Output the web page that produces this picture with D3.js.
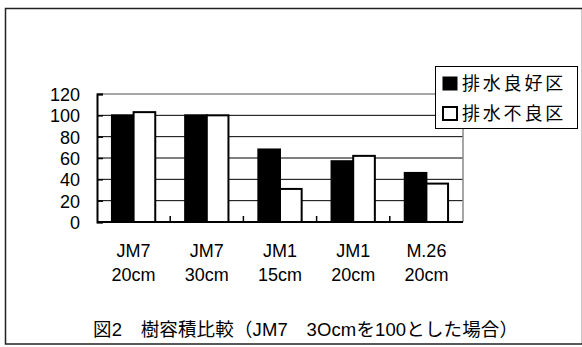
<!DOCTYPE html>
<html><head><meta charset="utf-8">
<script src="https://cdn.jsdelivr.net/npm/d3@7"></script>
<style>
html,body{margin:0;padding:0;background:#fff;}
text{font-family:"Liberation Sans","Noto Sans CJK JP",sans-serif;fill:#000;}
</style></head>
<body><svg id="c" width="582" height="347"></svg>
<script>
const categories = [["JM7","20cm"],["JM7","30cm"],["JM1","15cm"],["JM1","20cm"],["M.26","20cm"]];
const seriesNames = ["排水良好区","排水不良区"];
const good = [100, 100, 68, 57, 46];
const poor = [103, 100, 31, 62, 36];
const yTicks = [0,20,40,60,80,100,120];
const title = "図2\u3000樹容積比較（JM7\u30003Ocmを100とした場合）";

const svg = d3.select("#c");
// outer frame
svg.append("rect").attr("x",5.5).attr("y",8.5).attr("width",577).attr("height",335.5)
  .attr("fill","none").attr("stroke","#222").attr("stroke-width",1.5);

const L=97,R=463,T=94,B=222;
const catKeys = categories.map((d,i)=>i);
const x0 = d3.scaleBand().domain(catKeys).range([L,R]).paddingInner(0).paddingOuter(0);
const x1 = d3.scaleBand().domain(seriesNames).range([0,x0.bandwidth()]).paddingInner(0).paddingOuter(0.69);
const y = d3.scaleLinear().domain([0,120]).range([B,T]);

// gridlines
svg.append("g").selectAll("line").data(yTicks.filter(v=>v>0&&v<120)).join("line")
  .attr("x1",L).attr("x2",R).attr("y1",d=>y(d)).attr("y2",d=>y(d))
  .attr("stroke","#000").attr("stroke-width",1);
// top and right borders gray
svg.append("line").attr("x1",L).attr("x2",R).attr("y1",y(120)).attr("y2",y(120)).attr("stroke","#888").attr("stroke-width",1.5);
svg.append("line").attr("x1",R).attr("x2",R).attr("y1",T).attr("y2",B).attr("stroke","#888").attr("stroke-width",1.5);

// y axis
const yAxis = d3.axisLeft(y).tickValues(yTicks).tickSize(-6).tickPadding(17);
const gy = svg.append("g").attr("transform",`translate(${L},0)`).call(yAxis);
gy.select(".domain").attr("stroke","#000").attr("stroke-width",2);
gy.selectAll(".tick line").attr("stroke","#000").attr("stroke-width",1.5);
gy.selectAll("text").attr("font-size",18).attr("fill","#000").attr("dy","0.36em");

// bars
const data = categories.map((c,i)=>({i, vals:[good[i],poor[i]]}));
const g = svg.append("g");
data.forEach(d=>{
  seriesNames.forEach((s,k)=>{
    g.append("rect")
      .attr("x", x0(d.i)+x1(s)).attr("width", x1.bandwidth())
      .attr("y", y(d.vals[k])).attr("height", B - y(d.vals[k]))
      .attr("fill", k===0 ? "#000" : "#fff")
      .attr("stroke","#000").attr("stroke-width",2);
  });
});

// x axis
svg.append("line").attr("x1",L).attr("x2",R).attr("y1",B).attr("y2",B).attr("stroke","#000").attr("stroke-width",2);
const bounds = d3.range(1,categories.length).map(i=>x0(i));
svg.append("g").selectAll("line").data(bounds).join("line")
  .attr("x1",d=>d).attr("x2",d=>d).attr("y1",B).attr("y2",B-6).attr("stroke","#000").attr("stroke-width",1.5);
const xl = svg.append("g");
categories.forEach((c,i)=>{
  const cx = x0(i)+x0.bandwidth()/2;
  xl.append("text").attr("x",cx).attr("y",257).attr("text-anchor","middle").attr("font-size",18).text(c[0]);
  xl.append("text").attr("x",cx).attr("y",280.5).attr("text-anchor","middle").attr("font-size",18).text(c[1]);
});

// legend
svg.append("rect").attr("x",435.5).attr("y",66.5).attr("width",142).attr("height",62)
  .attr("fill","#fff").attr("stroke","#000").attr("stroke-width",1);
seriesNames.forEach((s,k)=>{
  const cy = 83.5 + k*30;
  svg.append("rect").attr("x",443).attr("y",cy-6.5).attr("width",14).attr("height",13)
    .attr("fill",k===0?"#000":"#fff").attr("stroke","#000").attr("stroke-width",k===0?1:2);
  svg.append("text").attr("x",462).attr("y",cy+6.5).attr("font-size",18)
    .attr("letter-spacing",2.8).attr("font-family","Noto Sans CJK JP").text(s);
});

// title
svg.append("text").attr("x",93).attr("y",336).attr("text-anchor","start")
  .attr("font-size",18.5)
  .attr("textLength",425).attr("lengthAdjust","spacing").text(title);
</script></body></html>
